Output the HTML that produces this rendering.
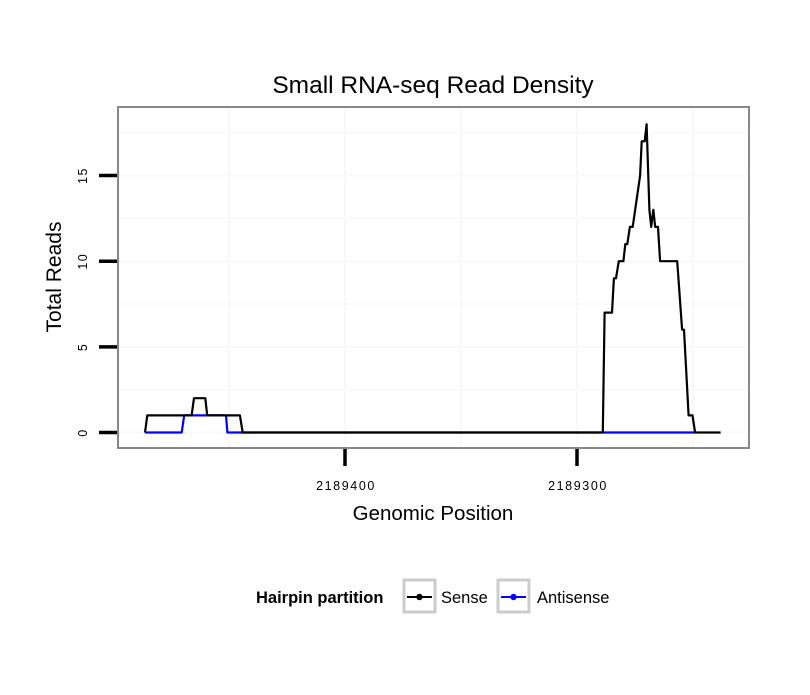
<!DOCTYPE html>
<html><head><meta charset="utf-8"><style>
body{margin:0;background:#fff;}
text{font-family:"Liberation Sans",sans-serif;}
</style></head><body>
<svg id="chart" width="810" height="690" xmlns="http://www.w3.org/2000/svg">
<rect width="810" height="690" fill="#fff"/>
<text x="433" y="93" font-size="24.5" text-anchor="middle">Small RNA-seq Read Density</text>
<g id="grid"></g>
<g id="lines"></g>
<rect x="118" y="107" width="631" height="341" fill="none" stroke="#888" stroke-width="2"/>
<g id="axes"></g>
<text x="433" y="520" font-size="20.5" text-anchor="middle">Genomic Position</text>
<text transform="translate(61,277) rotate(-90)" font-size="21" text-anchor="middle">Total Reads</text>
<g>
<text x="256" y="603" font-size="16.5" font-weight="bold">Hairpin partition</text>
<g>
<rect x="404" y="580" width="31" height="32" fill="#fff" stroke="#ccc" stroke-width="3"/>
<line x1="407" y1="597" x2="432" y2="597" stroke="#000" stroke-width="2"/>
<circle cx="419.5" cy="597" r="3.2" fill="#000"/>
<text x="441" y="603" font-size="16.5">Sense</text></g>
<g>
<rect x="498" y="580" width="31" height="32" fill="#fff" stroke="#ccc" stroke-width="3"/>
<line x1="501" y1="597" x2="526" y2="597" stroke="#00f" stroke-width="2"/>
<circle cx="513.5" cy="597" r="3.2" fill="#00f"/>
<text x="537" y="603" font-size="16.5">Antisense</text></g>
</g>
</svg>
<script>
const senseX=[2189486.2,2189485.2,2189466.1,2189465.1,2189460.2,2189459.4,2189445.3,2189444.1,2189288.9,2189288.1,2189284.9,2189284.1,2189283.2,2189282.0,2189280.0,2189279.2,2189278.3,2189277.2,2189276.0,2189272.8,2189272.1,2189270.8,2189270.0,2189268.8,2189268.0,2189267.1,2189266.3,2189265.1,2189264.2,2189256.8,2189254.7,2189253.9,2189251.9,2189250.2,2189249.1,2189238.1];
const senseY=[0,1,1,2,2,1,1,0,0,7,7,9,9,10,10,11,11,12,12,15,17,17,18,13,12,13,12,12,10,10,6,6,1,1,0,0];
const antiX=[2189486.2,2189470.4,2189469.3,2189451.3,2189450.7,2189249.0];
const antiY=[0,0,1,1,0,0];
const xTicks=[2189400,2189300];
const yTicks=[0,5,10,15];
const NS="http://www.w3.org/2000/svg";
function sx(p){return 345+(2189400-p)*2.32;}
function sy(v){return 432.5-v*17.13;}
function mk(t,a,parent){const e=document.createElementNS(NS,t);for(const k in a)e.setAttribute(k,a[k]);parent.appendChild(e);return e;}
const grid=document.getElementById('grid'),axes=document.getElementById('axes'),lines=document.getElementById('lines');
for(let v=-2.5;v<=20;v+=2.5){const y=sy(v);if(y<108||y>447)continue;
const l=mk('line',{x1:118,x2:749,y1:y,y2:y,stroke:'#f8f8f8','stroke-width':Math.abs(v%5)<0.01?2:1.5},grid);

}
for(let p=2189500;p>=2189200;p-=50){const x=sx(p);if(x<119||x>748)continue;
const l=mk('line',{x1:x,x2:x,y1:107,y2:448,stroke:'#f8f8f8','stroke-width':2},grid);

}
yTicks.forEach(v=>{const y=sy(v);
const t=mk('line',{x1:99,x2:117,y1:y,y2:y,stroke:'#000','stroke-width':3.5},axes);


const tx=mk('text',{transform:`translate(87,${y}) rotate(-90)`,'font-size':12.5,'letter-spacing':1.5,'text-anchor':'middle'},axes);
tx.textContent=v;

});
xTicks.forEach(p=>{const x=sx(p);
const t=mk('line',{x1:x,x2:x,y1:449,y2:466,stroke:'#000','stroke-width':3.5},axes);


const tx=mk('text',{x:x+1,y:490,'font-size':12.5,'letter-spacing':1.6,'text-anchor':'middle'},axes);
tx.textContent=p;

});
function path(xs,ys,col,name){const d=xs.map((p,i)=>(i?'L':'M')+sx(p).toFixed(1)+','+sy(ys[i]).toFixed(1)).join('');
const e=mk('path',{d:d,fill:'none',stroke:col,'stroke-width':2.2,'stroke-linejoin':'round'},lines);

}
path(antiX,antiY,'#00f','antisense-line');
path(senseX,senseY,'#000','sense-line');
</script>
</body></html>
